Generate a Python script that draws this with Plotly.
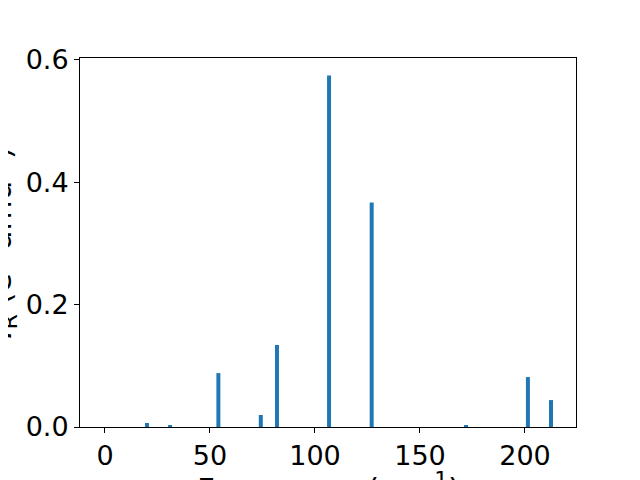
import plotly.graph_objects as go

freq = [20.0, 31.0, 54.0, 74.2, 81.9, 106.7, 127.0, 171.9, 201.4, 212.4]
intensity = [0.0065, 0.003, 0.088, 0.0196, 0.134, 0.574, 0.3665, 0.003, 0.0815, 0.044]
bar_width = [1.9] * len(freq)

x_ticks = [0, 50, 100, 150, 200]
y_ticks = [0.0, 0.2, 0.4, 0.6]

font = dict(family="DejaVu Sans", size=27, color="black")
title_font = dict(family="DejaVu Sans", size=31, color="black")

fig = go.Figure()
fig.add_trace(go.Bar(x=freq, y=intensity, width=bar_width,
                     marker=dict(color="#1f77b4", line=dict(width=0))))

# page has an 8px body margin, so the figure is 632x472 placed at (8, 8)
fig.update_layout(
    width=632, height=472,
    margin=dict(l=72, r=64, t=50, b=53, autoexpand=False),
    paper_bgcolor="white", plot_bgcolor="white",
    showlegend=False,
    font=font,
)
fig.update_xaxes(range=[-11.9, 224.3], tickvals=x_ticks, ticks="outside",
                 ticklen=5, tickwidth=1, tickcolor="black",
                 showline=True, linecolor="black", linewidth=1, mirror=True,
                 showgrid=False, zeroline=False, tickfont=font, automargin=False)
fig.update_yaxes(range=[0, 0.6027], tickvals=y_ticks, tickformat=".1f", ticks="outside",
                 ticklen=5, tickwidth=1, tickcolor="black",
                 showline=True, linecolor="black", linewidth=1, mirror=True,
                 showgrid=False, zeroline=False, tickfont=font, automargin=False)

fig.add_annotation(text="Frequency (cm<sup>-1</sup>)", xref="paper", yref="paper",
                   x=0.5, y=0, xanchor="center", yanchor="top", yshift=-38,
                   showarrow=False, font=title_font)
fig.add_annotation(text="<i>I</i><sub>R</sub> (e<sup>2</sup> amu<sup>-1</sup>)",
                   xref="paper", yref="paper", x=0, y=0.5, xanchor="center",
                   yanchor="middle", xshift=-80, textangle=-90,
                   showarrow=False, font=title_font)

fig.write_html("out.html")
